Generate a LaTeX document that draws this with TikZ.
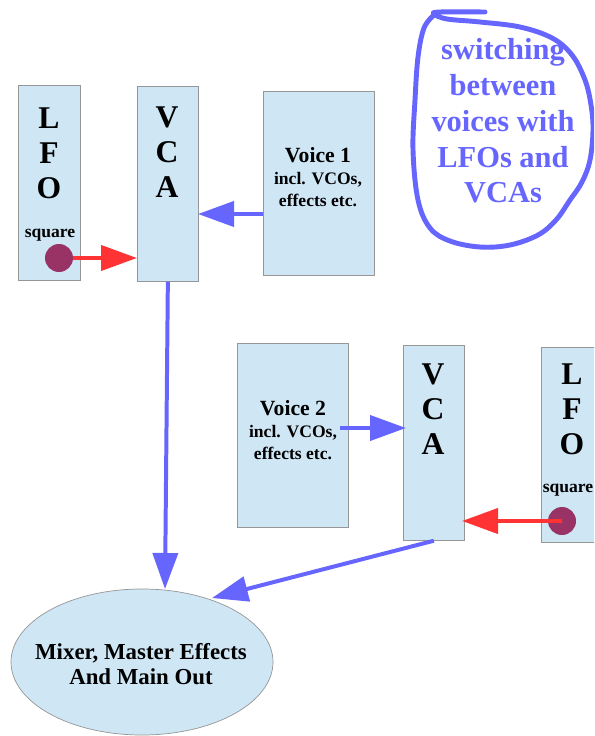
\documentclass[tikz,border=0pt]{standalone}
\usepackage{fontspec}
\setmainfont{Liberation Serif}
\usepackage{tikz}
\usetikzlibrary{arrows.meta,positioning,shapes.geometric}
\usepackage{xcolor}
\definecolor{boxColor}{RGB}{207,230,245}
\definecolor{edgeColor}{RGB}{150,150,150}
\definecolor{sigBlue}{RGB}{102,102,255}
\definecolor{sigRed}{RGB}{255,51,51}
\definecolor{dotColor}{RGB}{153,51,102}
\newcommand{\letterfont}{\fontsize{27}{30}\selectfont\bfseries}
\newcommand{\voicefont}{\fontsize{18.5}{18.5}\selectfont\bfseries}
\newcommand{\voicesmallfont}{\fontsize{15}{18.5}\selectfont\bfseries}
\newcommand{\squarefont}{\fontsize{15}{17}\selectfont\bfseries}
\newcommand{\mixfont}{\fontsize{19.5}{22}\selectfont\bfseries}
\newcommand{\notefont}{\fontsize{26}{30.5}\selectfont\bfseries}

\begin{document}
\begin{tikzpicture}[x=0.03cm, y=-0.03cm,
        lfo/.style={draw=edgeColor, fill=boxColor, line width=0.6pt, anchor=north west, minimum width=1.86cm, minimum height=5.85cm},
        vca/.style={draw=edgeColor, fill=boxColor, line width=0.6pt, anchor=north west, minimum width=1.83cm, minimum height=5.85cm},
        voice/.style={draw=edgeColor, fill=boxColor, line width=0.6pt, anchor=north west, minimum width=3.33cm, minimum height=5.52cm},
        mixer/.style={ellipse, draw=edgeColor, fill=boxColor, line width=0.6pt, inner sep=0pt, minimum width=7.86cm, minimum height=4.38cm},
        dot/.style={circle, fill=dotColor, minimum size=0.84cm, inner sep=0pt},
        lbl/.style={align=center, inner sep=0pt},
        bluearr/.style={-{Triangle[length=1.08cm, width=0.75cm]}, line width=3.4pt, sigBlue},
        redarr/.style={-{Triangle[length=1.08cm, width=0.75cm]}, line width=3.4pt, sigRed}
      ]
      \useasboundingbox (0,0) rectangle (594,736);
      \clip (0,0) rectangle (594,736);

      \node[lfo] (lfoA) at (18,85) {};
      \node[vca] (vcaA) at (137,86) {};
      \node[voice] (voiceA) at (263,91) {};
      \node[voice] (voiceB) at (237,343) {};
      \node[vca] (vcaB) at (403,345) {};
      \node[lfo] (lfoB) at (541,347) {};
      \node[mixer] (mixer) at (142,662) {};
      \node[lbl, font=\mixfont] (mixtxt) at (141,664) {Mixer, Master Effects\\And Main Out};

      \node[lbl, font=\letterfont] (lfoAtxt) at (49,153) {L\\F\\O};
      \node[lbl, font=\letterfont] (vcaAtxt) at (167,152) {V\\C\\A};
      \node[lbl, font=\letterfont] (vcaBtxt) at (433,409) {V\\C\\A};
      \node[lbl, font=\letterfont] (lfoBtxt) at (572,409) {L\\F\\O};
      \node[lbl, font=\voicefont] (voiceAtxt) at (318,177) {Voice 1\\ \voicesmallfont incl. VCOs,\\ \voicesmallfont effects etc.};
      \node[lbl, font=\voicefont] (voiceBtxt) at (293,430) {Voice 2\\ \voicesmallfont incl. VCOs,\\ \voicesmallfont effects etc.};
      \node[lbl, font=\squarefont] (sqA) at (50,235) {square};
      \node[lbl, font=\squarefont] (sqB) at (568,490) {square};
      \node[dot] (dotA) at (59,258) {};
      \node[dot] (dotB) at (562,521) {};

      \node[lbl, font=\notefont, text=sigBlue] (note) at (503,121) {switching\\between\\voices with\\LFOs and\\VCAs};
      \draw[sigBlue, line width=4.2pt, line cap=round, line join=round] plot[smooth, tension=0.6] coordinates {(485,12) (440,12) (434,14) (447,19) (480,22) (520,27) (552,38) (572,55) (585,80) (591,105) (593,130) (590,160) (582,182) (570,200) (556,220) (538,235) (510,245) (480,247) (450,241) (430,228) (418,200) (413,150) (415,100) (418,57) (424,28) (434,15)};

      \coordinate (inA) at (198,214);
      \coordinate (inB) at (406,428);
      \coordinate (srcB) at (340,428);
      \coordinate (modB) at (462,521);
      \coordinate (mixInA) at (165,589);
      \coordinate (mixInB) at (212,598);

      \draw[redarr] (dotA) -- (vcaA.west |- dotA);
      \draw[bluearr] (voiceA.west |- inA) -- (inA);
      \draw[bluearr] (srcB) -- (inB);
      \draw[redarr] (dotB.center) -- (modB);
      \draw[bluearr] (vcaA.south) -- (mixInA);
      \draw[bluearr] (vcaB.south) -- (mixInB);
    \end{tikzpicture}
\end{document}
